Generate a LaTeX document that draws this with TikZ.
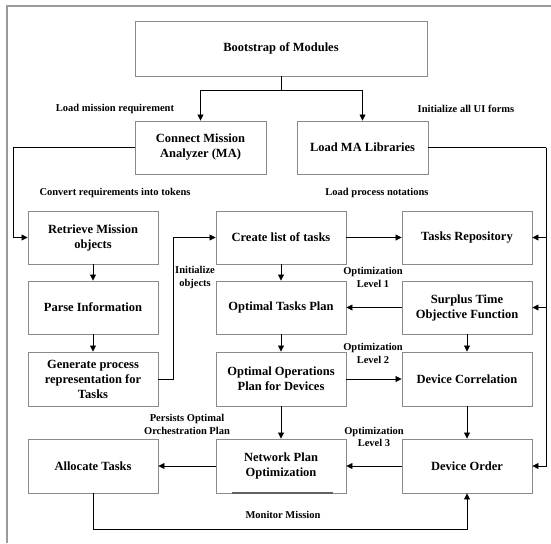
\documentclass[tikz,border=0pt]{standalone}
\usepackage{fontspec}
\setmainfont{Liberation Serif}
\usetikzlibrary{arrows.meta}
\definecolor{boxgray}{HTML}{8A8A8A}
\definecolor{framegray}{HTML}{9A9A9A}
\begin{document}
\begin{tikzpicture}[x=1pt,y=-1pt,
  box/.style={draw=boxgray, line width=0.9pt, fill=white, align=center,
    font=\fontsize{12.5}{15}\selectfont\bfseries, inner sep=1pt,
    minimum width=130pt, minimum height=54pt},
  lbl/.style={align=center, font=\fontsize{10.5}{12.5}\selectfont\bfseries, inner sep=0pt},
  conn/.style={draw=black, line width=0.8pt},
  arr/.style={conn, -{Triangle[length=6pt,width=6pt]}}
]
\useasboundingbox (0,0) rectangle (551,543);
% outer frame (cropped at right and bottom)
\draw[framegray, line width=1.6pt] (7,543) -- (7,6) -- (551,6);

% boxes
\node[box, minimum width=292pt, minimum height=55pt] (boot) at (281,48.5) {Bootstrap of Modules};
\node[box, minimum width=131pt, minimum height=53pt] (cma) at (200.5,147.5) {Connect Mission\\Analyzer (MA)};
\node[box, minimum width=131pt, minimum height=53pt] (lma) at (362.5,147.5) {Load MA Libraries};

\node[box, minimum height=53pt] (ret) at (93,237.5) {Retrieve Mission\\objects};
\node[box, minimum height=53pt] (cre) at (281,237.5) {Create list of tasks};
\node[box, minimum height=53pt] (trep) at (467,237.5) {Tasks Repository};

\node[box, minimum height=53pt] (parse) at (93,307.5) {Parse Information};
\node[box, minimum height=53pt] (otp) at (281,307.5) {Optimal Tasks Plan};
\node[box, minimum height=53pt] (sur) at (467,307.5) {Surplus Time\\Objective Function};

\node[box] (gen) at (93,379) {Generate process\\representation for\\Tasks};
\node[box] (oop) at (281,379) {Optimal Operations\\Plan for Devices};
\node[box] (dcor) at (467,379) {Device Correlation};

\node[box] (alloc) at (93,466) {Allocate Tasks};
\node[box] (net) at (281,466) {Network Plan\\Optimization};
\node[box] (dord) at (467,466) {Device Order};
\draw[boxgray!70!black, line width=1.4pt] (232,493) -- (333,493);

% helper coordinates
\coordinate (split) at (281,90);
\coordinate (lb) at (13,147.5);
\coordinate (rb) at (546,147.5);
\coordinate (gb) at (173,379);
\coordinate (lp) at (93,529);

% connectors
\draw[conn] (boot.south) -- (split);
\draw[arr] (split) -| (cma.north);
\draw[arr] (split) -| (lma.north);
\draw[arr] (cma.west) -- (lb) |- (ret.west);
\draw[conn] (lma.east) -- (rb);
\draw[arr] (rb) |- (trep.east);
\draw[arr] (rb) |- (sur.east);
\draw[arr] (rb) |- (dord.east);
\draw[arr] (ret) -- (parse);
\draw[arr] (parse) -- (gen);
\draw[arr] (gen.east) -- (gb) |- (cre.west);
\draw[arr] (cre) -- (trep);
\draw[arr] (cre) -- (otp);
\draw[arr] (sur) -- (otp);
\draw[arr] (sur) -- (dcor);
\draw[arr] (otp) -- (oop);
\draw[arr] (oop) -- (dcor);
\draw[arr] (oop) -- (net);
\draw[arr] (dcor) -- (dord);
\draw[arr] (dord) -- (net);
\draw[arr] (net) -- (alloc);
\draw[arr] (alloc.south) -- (lp) -| (dord.south);

% labels
\node[lbl] (l1) at (115,109) {Load mission requirement};
\node[lbl] (l2) at (466,109) {Initialize all UI forms};
\node[lbl] (l3) at (115,193) {Convert requirements into tokens};
\node[lbl] (l4) at (377,193) {Load process notations};
\node[lbl] (l5) at (195,277.5) {Initialize\\objects};
\node[lbl] (l6) at (373,277.5) {Optimization\\Level 1};
\node[lbl] (l7) at (373,353.5) {Optimization\\Level 2};
\node[lbl] (l8) at (374,437) {Optimization\\Level 3};
\node[lbl] (l9) at (187,424.5) {Persists Optimal\\Orchestration Plan};
\node[lbl] (l10) at (283,515) {Monitor Mission};
\end{tikzpicture}
\end{document}
